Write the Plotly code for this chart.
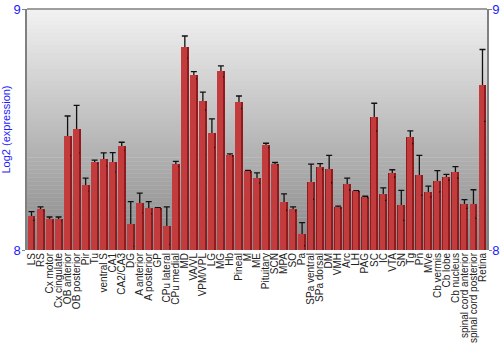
import plotly.graph_objects as go

categories = ["LS", "RS", "Cx motor", "Cx cingulate", "OB anterior", "OB posterior", "Pir", "Tu",
              "ventral S", "CA1", "CA2/CA3", "DG", "A anterior", "A posterior", "GP", "CPu lateral",
              "CPu medial", "MD", "VA/VL", "VPM/VPL", "LG", "MG", "Hb", "Pineal", "M", "ME",
              "Pituitary", "SCN", "MPA", "SO", "Pa", "SPa ventral", "SPa dorsal", "DM", "VMH", "Arc",
              "LH", "PAG", "SC", "IC", "VTA", "SN", "Tg", "Pn", "MVe", "Cb vermis", "Cb lobe",
              "Cb nucleus", "spinal cord anterior", "spinal cord posterior", "Retina"]

values = [8.141, 8.170, 8.127, 8.129, 8.474, 8.501, 8.271, 8.365,
          8.376, 8.364, 8.430, 8.108, 8.195, 8.176, 8.173, 8.101,
          8.357, 8.842, 8.725, 8.618, 8.485, 8.741, 8.395, 8.613, 8.326, 8.299,
          8.434, 8.358, 8.199, 8.170, 8.066, 8.283, 8.346, 8.336, 8.178, 8.274,
          8.244, 8.220, 8.551, 8.232, 8.318, 8.185, 8.468, 8.310, 8.242, 8.285, 8.302,
          8.322, 8.191, 8.191, 8.683]

errors = [0.018, 0.009, 0.010, 0.008, 0.082, 0.099, 0.027, 0.008,
          0.027, 0.040, 0.017, 0.093, 0.041, 0.025, 0.003, 0.078,
          0.011, 0.046, 0.015, 0.037, 0.059, 0.023, 0.004, 0.026, 0.004, 0.021,
          0.009, 0.005, 0.034, 0.009, 0.048, 0.073, 0.012, 0.057, 0.004, 0.024,
          0.002, 0.003, 0.058, 0.026, 0.015, 0.062, 0.026, 0.083, 0.023, 0.044, 0.012,
          0.024, 0.018, 0.059, 0.149]

y_ticks = [8, 9]
y_title = "Log2 (expression)"

fig = go.Figure()

# main bar body (darker red)
fig.add_trace(go.Bar(
    x=categories, y=values, width=0.88,
    marker=dict(color="#8f1b1e", line=dict(width=0)),
    hoverinfo="skip", showlegend=False,
))
# lighter highlight stripe
fig.add_trace(go.Bar(
    x=categories, y=values, width=0.62, offset=-0.40,
    marker=dict(color="#c23b3d", line=dict(width=0)),
    hoverinfo="skip", showlegend=False, yaxis="y2",
))
# error bars
fig.add_trace(go.Scatter(
    x=categories, y=values, mode="markers",
    marker=dict(size=1, opacity=0),
    error_y=dict(type="data", array=errors, color="#111111", thickness=1.3, width=3),
    hoverinfo="skip", showlegend=False,
))

# background gradient
shapes = []
n = 60
top_c, bot_c = 242, 135
for i in range(n):
    f0 = i / n
    f1 = (i + 1) / n
    c = round(bot_c + (top_c - bot_c) * (f0 + f1) / 2)
    shapes.append(dict(type="rect", xref="paper", yref="paper", x0=0, x1=1, y0=f0, y1=f1 + 0.002,
                       fillcolor=f"rgb({c},{c},{c})", line=dict(width=0), layer="below"))
shapes.append(dict(type="line", xref="paper", yref="paper", x0=0, x1=1, y0=1, y1=1,
                   line=dict(color="#808080", width=1.5)))

axis_font = dict(family="Liberation Sans, Arial, sans-serif", size=13, color="#1a1aff")

fig.update_layout(
    width=500, height=350,
    margin=dict(l=27, r=13, t=9, b=100),
    paper_bgcolor="white", plot_bgcolor="white",
    barmode="overlay", bargap=0,
    shapes=shapes,
    xaxis=dict(
        type="category", tickangle=-90, showgrid=False, ticks="", showline=False,
        tickmode="array", tickvals=categories, ticktext=categories, automargin=False,
        tickfont=dict(family="Liberation Sans, Arial, sans-serif", size=10, color="#222222"),
        range=[-0.5, len(categories) - 0.5],
    ),
    yaxis=dict(
        range=[8, 9], tickvals=y_ticks, ticktext=[str(t) for t in y_ticks],
        showgrid=False, zeroline=False, ticks="outside", ticklen=3, tickcolor="#808080",
        showline=True, linecolor="#808080", linewidth=1.5, automargin=False,
        tickfont=axis_font, ticklabelstandoff=-1,
        title=dict(text=y_title, font=dict(family="Liberation Sans, Arial, sans-serif", size=11, color="#1a1aff"), standoff=8),
    ),
    yaxis2=dict(
        range=[8, 9], tickvals=y_ticks, ticktext=[str(t) for t in y_ticks],
        overlaying="y", side="right", showgrid=False, zeroline=False,
        ticks="outside", ticklen=3, tickcolor="#808080", automargin=False,
        showline=True, linecolor="#808080", linewidth=1.5,
        tickfont=axis_font, ticklabelstandoff=-2,
    ),
)

fig.write_html("out.html")
